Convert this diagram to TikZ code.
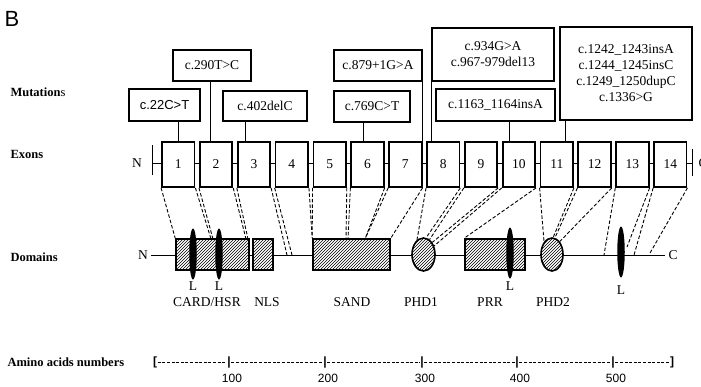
\documentclass[tikz,border=0pt]{standalone}
\usepackage{fontspec}
\setmainfont{Liberation Serif}
\newfontfamily\arialfont{Liberation Sans}
\usetikzlibrary{patterns,positioning,shapes.geometric}

\begin{document}
\begin{tikzpicture}[x=1pt,y=-1pt,
  every node/.style={font=\fontsize{13.5}{16}\selectfont},
  exon/.style={draw,line width=1.8pt,fill=white,inner sep=0pt,
    minimum width=32.5pt,minimum height=45pt},
  mutbox/.style={draw,line width=1.8pt,fill=white,inner sep=0pt,align=center},
  link/.style={line width=0.9pt},
  mapline/.style={line width=0.9pt,dash pattern=on 3.5pt off 2pt},
  hatchbox/.style={draw,line width=1.6pt,preaction={fill=white},
    pattern=north east lines,inner sep=0pt,minimum height=31pt},
  hatchoval/.style={hatchbox,ellipse,minimum height=33pt},
  lblob/.style={ellipse,fill=black,inner sep=0pt,minimum width=7.5pt,minimum height=51pt},
  rowlabel/.style={anchor=west,font=\fontsize{12.5}{15}\selectfont\bfseries},
  tick/.style={inner sep=0.5pt,font=\arialfont\fontsize{12}{14}\selectfont\bfseries},
  numlabel/.style={inner sep=0pt,font=\arialfont\fontsize{12}{14}\selectfont},
  scaledash/.style={line width=0.9pt,dash pattern=on 3pt off 1.6pt}]
\useasboundingbox (0,0) rectangle (701,386);

\node[font=\arialfont\fontsize{22}{24}\selectfont] (panel) at (12,19) {B};

% row labels
\node[rowlabel] (mutlab) at (7,92) {Mutation{\mdseries s}};
\node[rowlabel] (exlab) at (7,154) {Exons};
\node[rowlabel] (domlab) at (7,257) {Domains};
\node[rowlabel] (aalab) at (4,362) {Amino acids numbers};

% exons
\node (nex) at (137,163) {N};
\coordinate (barl) at (152,163);
\coordinate (barr) at (692,163);
\draw[link] (barl) -- (barr);
\draw[link] ([yshift=-12pt]barl) -- ([yshift=18pt]barl);
\draw[link] ([yshift=-13pt]barr) -- ([yshift=14pt]barr);
\node (cex) at (703,163) {C};
\foreach \i in {1,...,14}
  \node[exon] (e\i) at ({178.25+37.85*(\i-1)},164.5) {\i};

% mutations
\node[mutbox,minimum width=71pt,minimum height=32pt,font=\arialfont\fontsize{13}{16}\selectfont] (m1) at (164.5,105) {c.22C>T};
\node[mutbox,minimum width=78pt,minimum height=31pt] (m2) at (212,65.5) {c.290T>C};
\node[mutbox,minimum width=84pt,minimum height=30pt] (m3) at (265,106) {c.402delC};
\node[mutbox,minimum width=88pt,minimum height=31pt] (m4) at (378,65.5) {c.879+1G>A};
\node[mutbox,minimum width=76pt,minimum height=31pt] (m5) at (372,106.5) {c.769C>T};
\node[mutbox,minimum width=122pt,minimum height=53pt] (m6) at (493,54.5) {c.934G>A\\c.967-979del13};
\node[mutbox,minimum width=119pt,minimum height=32pt] (m7) at (495.5,105) {c.1163\_1164insA};
\node[mutbox,minimum width=132pt,minimum height=93pt] (m8) at (626,73.5)
  {c.1242\_1243insA\\c.1244\_1245insC\\c.1249\_1250dupC\\c.1336>G};

\draw[link] (e1.north |- m1.south) -- (e1.north);
\draw[link] ([xshift=-6pt]e2.north |- m2.south) -- ([xshift=-6pt]e2.north);
\draw[link] ([xshift=-9pt]e3.north |- m3.south) -- ([xshift=-9pt]e3.north);
\draw[link] (e7.north east |- m4.south) -- (e7.north east);
\draw[link] ([xshift=-4pt]e6.north |- m5.south) -- ([xshift=-4pt]e6.north);
\draw[link] (m6.south west) -- (m6.south west |- e8.north);
\draw[link] ([xshift=-9pt]e10.north |- m7.south) -- ([xshift=-9pt]e10.north);
\draw[link] ([xshift=9pt]e11.north |- m8.south) -- ([xshift=9pt]e11.north);

% domains
\node (ndom) at (143,255) {N};
\node (cdom) at (673,255) {C};
\draw[link] (ndom) -- (cdom);
\node[hatchbox,minimum width=73pt] (card) at (212.5,254.5) {};
\node[hatchbox,minimum width=20pt] (nls) at (263,254.5) {};
\node[hatchbox,minimum width=77pt] (sand) at (351.5,254.5) {};
\node[hatchoval,minimum width=23pt] (phd1) at (423.5,254.5) {};
\node[hatchbox,minimum width=60pt] (prr) at (495,254.5) {};
\node[hatchoval,minimum width=22pt] (phd2) at (552,254.5) {};
\node[lblob] (l1) at (193,254) {};
\node[lblob] (l2) at (219,254) {};
\node[lblob] (l3) at (510,253) {};
\node[lblob] (l4) at (621,252) {};

\node (l1txt) at (193,286) {L};
\node (l2txt) at (219,286) {L};
\node (l3txt) at (510,286) {L};
\node (l4txt) at (621,290) {L};
\node (cardtxt) at (207,302) {CARD/HSR};
\node (nlstxt) at (267,302) {NLS};
\node (sandtxt) at (352,302) {SAND};
\node (phd1txt) at (421,302) {PHD1};
\node (prrtxt) at (490,302) {PRR};
\node (phd2txt) at (553,302) {PHD2};

% exon borders onto the protein
\coordinate (k1) at (211,239);
\coordinate (k2) at (213,239);
\coordinate (k3) at (246,239);
\coordinate (k4) at (248,239);
\coordinate (k5) at (287,255);
\coordinate (k6) at (292,255);
\coordinate (k7) at (346,239);
\coordinate (k8) at (348,239);
\coordinate (k9) at (365,239);
\coordinate (k10) at (604,255);
\coordinate (k11) at (627,247);
\coordinate (k12) at (634,255);
\coordinate (k13) at (650,253);
\foreach \i/\l/\r in {1/card.north west/k1, 2/k2/k3, 3/k4/k5, 4/k6/sand.north west,
    5/sand.north west/k7, 6/k8/k9, 7/k9/sand.north east, 8/phd1.114/phd1.81,
    9/phd1.68/phd1.54, 10/phd1.39/prr.north west, 11/phd2.122/phd2.86,
    12/phd2.80/phd2.59, 13/k10/k11, 14/k12/k13}
  \draw[mapline] (e\i.south west) -- (\l) (e\i.south east) -- (\r);

% amino acid scale
\node[tick] (t0) at (155,362) {[};
\foreach \i/\x in {1/229,2/325,3/422,4/517,5/613}
  \node[tick] (t\i) at (\x,362) {|};
\node[tick] (t6) at (672,362) {]};
\foreach \a/\b in {t0/t1,t1/t2,t2/t3,t3/t4,t4/t5,t5/t6}
  \draw[scaledash] (\a) -- (\b);
\foreach \i/\n in {1/100,2/200,3/300,4/400,5/500}
  \node[numlabel,below=6pt of t\i,xshift=3pt] {\n};
\end{tikzpicture}
\end{document}
